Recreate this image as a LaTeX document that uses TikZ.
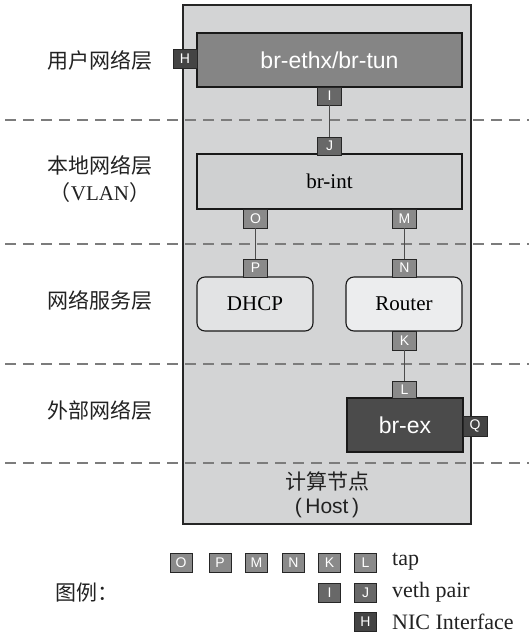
\documentclass[tikz,border=0pt]{standalone}
\usepackage{fontspec}
\setmainfont{Liberation Serif}
\newfontfamily\sansf{Liberation Sans}
\newfontfamily\cjk{Noto Sans CJK SC}
\definecolor{hostfill}{HTML}{D3D4D5}
\definecolor{ethfill}{HTML}{858585}
\definecolor{intfill}{HTML}{CFD0D1}
\definecolor{svcfill}{HTML}{E2E3E4}
\definecolor{rtrfill}{HTML}{ECEDEE}
\definecolor{exfill}{HTML}{4B4B4B}
\definecolor{tapfill}{HTML}{8A8A8A}
\definecolor{vethfill}{HTML}{686868}
\definecolor{nicfill}{HTML}{444444}
\definecolor{dashcol}{HTML}{7C7C7C}
\definecolor{txt}{HTML}{222222}
\begin{document}
\begin{tikzpicture}[x=1pt,y=-1pt,
  portbox/.style={draw=black!85, line width=0.9pt, minimum width=24pt, minimum height=19pt, inner sep=0pt,
    font=\sansf\fontsize{14}{14}\selectfont, text=white},
  tapport/.style={portbox, fill=tapfill},
  vethport/.style={portbox, fill=vethfill},
  nicport/.style={portbox, fill=nicfill},
  bridge/.style={draw=black!90, line width=1.1pt, inner sep=0pt},
  conn/.style={draw=black!70, line width=0.7pt},
  layerline/.style={draw=dashcol, line width=2.5pt, dash pattern=on 11pt off 7pt},
  layerlabel/.style={font=\cjk\fontsize{21}{21}\selectfont, text=txt, inner sep=0pt},
  legtext/.style={font=\fontsize{22}{22}\selectfont, text=txt, anchor=west, inner sep=0pt}]
\useasboundingbox (0,0) rectangle (529,635);
% host
\node[draw=black!85, line width=1.4pt, fill=hostfill, minimum width=288pt, minimum height=519pt, inner sep=0pt] (host) at (327,264.5) {};
% layer lines
\coordinate (d1a) at (5,120); \coordinate (d1b) at (529,120);
\coordinate (d2a) at (5,244); \coordinate (d2b) at (529,244);
\coordinate (d3a) at (5,364); \coordinate (d3b) at (529,364);
\coordinate (d4a) at (5,463); \coordinate (d4b) at (529,463);
\draw[layerline] (d1a) -- (d1b);
\draw[layerline] (d2a) -- (d2b);
\draw[layerline] (d3a) -- (d3b);
\draw[layerline] (d4a) -- (d4b);
% layer labels
\node[layerlabel] (l1) at (100,60) {用户网络层};
\node[layerlabel] (l2) at (100,165) {本地网络层};
\node[layerlabel] (l2b) at (100,193) {（\fontspec{Liberation Serif}VLAN\cjk）};
\node[layerlabel] (l3) at (100,300) {网络服务层};
\node[layerlabel] (l4) at (100,410) {外部网络层};
% bridges
\node[bridge, fill=ethfill, minimum width=265pt, minimum height=54pt, text=white, font=\sansf\fontsize{23}{23}\selectfont] (eth) at (329.5,60) {br-ethx/br-tun};
\node[bridge, fill=intfill, minimum width=265pt, minimum height=55pt, text=black, font=\fontsize{21}{21}\selectfont] (int) at (329.5,181.5) {br-int};
\node[bridge, fill=svcfill, rounded corners=8pt, minimum width=116pt, minimum height=54pt, text=black, font=\fontsize{21}{21}\selectfont] (dhcp) at (255,304) {DHCP};
\node[bridge, fill=rtrfill, rounded corners=8pt, minimum width=116pt, minimum height=54pt, text=black, font=\fontsize{21}{21}\selectfont] (router) at (404,304) {Router};
\node[bridge, fill=exfill, minimum width=116pt, minimum height=54pt, text=white, font=\sansf\fontsize{23}{23}\selectfont] (ex) at (405,425) {br-ex};
% ports
\node[nicport] (H) at (185,58.5) {H};
\node[vethport, minimum height=18pt] (I) at (329.5,96) {I};
\node[vethport, minimum height=18pt] (J) at (329.5,146) {J};
\node[tapport] (O) at (255.5,218.5) {O};
\node[tapport] (M) at (404.5,218.5) {M};
\node[tapport, minimum height=18pt] (P) at (255.5,268) {P};
\node[tapport, minimum height=18pt] (N) at (404.5,268) {N};
\node[tapport] (K) at (404.5,340.5) {K};
\node[tapport, minimum height=17pt] (L) at (404.5,389.5) {L};
\node[nicport, minimum height=20pt] (Q) at (475,426) {Q};
% connectors
\draw[conn] (I) -- (J);
\draw[conn] (O) -- (P);
\draw[conn] (M) -- (N);
\draw[conn] (K) -- (L);
% host label
\node[font=\cjk\fontsize{21}{21}\selectfont, text=txt, inner sep=0pt] (hostcn) at (327,481) {计算节点};
\node[font=\sansf\fontsize{21}{21}\selectfont, text=txt, inner sep=0pt] (hosten) at (327,508) {(\,Host\,)};
% legend
\node[tapport, minimum width=22pt] (lO) at (181,562.5) {O};
\node[tapport, minimum width=22pt] (lP) at (220,562.5) {P};
\node[tapport, minimum width=22pt] (lM) at (256.5,562.5) {M};
\node[tapport, minimum width=22pt] (lN) at (293.5,562.5) {N};
\node[tapport, minimum width=22pt] (lK) at (329.5,562.5) {K};
\node[tapport, minimum width=22pt] (lL) at (365.5,562.5) {L};
\node[vethport, minimum width=22pt] (lI) at (329.5,592.5) {I};
\node[vethport, minimum width=22pt] (lJ) at (365.5,592.5) {J};
\node[nicport, minimum width=22pt] (lH) at (365.5,622) {H};
\node[legtext] (ttap) at (392,562) {tap};
\node[legtext] (tveth) at (392,592) {veth pair};
\node[legtext] (tnic) at (392,622) {NIC Interface};
\node[font=\cjk\fontsize{21}{21}\selectfont, text=txt, anchor=west, inner sep=0pt] (legend) at (55,593) {图例：};
\end{tikzpicture}
\end{document}
